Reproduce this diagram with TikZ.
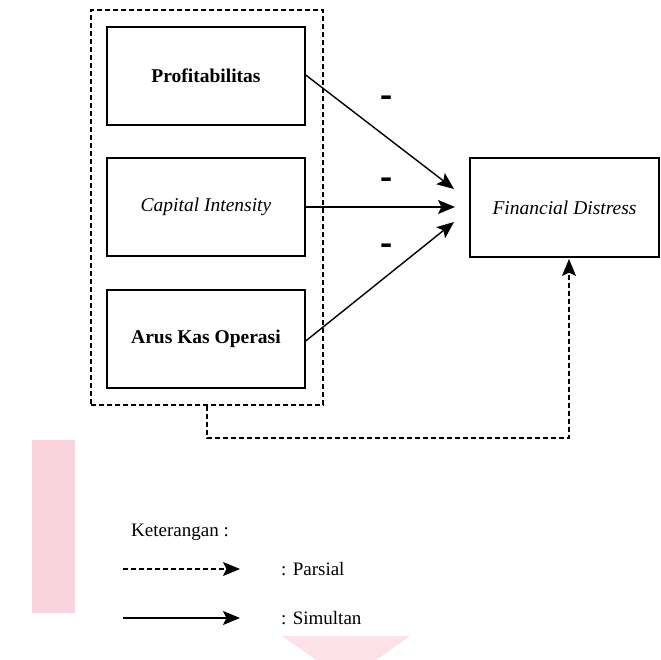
\documentclass[tikz,border=0pt]{standalone}
\usepackage{fontspec}
\setmainfont{Liberation Serif}
\usetikzlibrary{arrows.meta}
\definecolor{wmpink}{RGB}{250,212,220}
\definecolor{wmpinklight}{RGB}{252,225,230}
\tikzset{
  varbox/.style={draw, line width=1.4pt, rectangle, minimum width=198pt, minimum height=98pt, inner sep=0pt, font=\fontsize{19.5}{22}\selectfont},
  groupbox/.style={draw, line width=1.3pt, dash pattern=on 5pt off 3pt, rectangle, minimum width=232pt, minimum height=395pt, inner sep=0pt},
  solidarrow/.style={line width=1.4pt, -{Stealth[length=17pt,width=14pt,inset=3.5pt]}},
  dasharrow/.style={line width=1.3pt, dash pattern=on 5pt off 3pt, -{Stealth[length=17pt,width=14pt,inset=3.5pt]}},
  signlabel/.style={font=\bfseries\fontsize{26}{28}\selectfont, inner sep=0pt},
  legendtext/.style={font=\fontsize{19}{22}\selectfont, anchor=west, inner sep=0pt}
}
\begin{document}
\begin{tikzpicture}[x=1pt,y=-1pt]
\useasboundingbox (0,0) rectangle (661,660);
% watermark
\fill[wmpink] (32,440) rectangle (75,613);
\fill[wmpinklight] (282,636) -- (410,636) -- (376,660) -- (316,660) -- cycle;
% group
\node[groupbox] (grp) at (207,207.5) {};
\node[varbox] (p) at (206,76) {\bfseries Profitabilitas};
\node[varbox] (c) at (206,207) {\itshape Capital Intensity};
\node[varbox] (a) at (206,339) {\bfseries Arus Kas Operasi};
\node[draw, line width=1.4pt, rectangle, minimum width=189pt, minimum height=99pt, inner sep=0pt, font=\fontsize{19.5}{22}\selectfont] (fd) at (564.5,207.5) {\itshape Financial Distress};
% arrow ends
\coordinate (t1) at (454,189);
\coordinate (t2) at (455,207);
\coordinate (t3) at (454,222);
\coordinate (tin) at (569,259);
\coordinate (bend) at (207,438);
\draw[solidarrow] ([yshift=1pt]p.east) -- (t1);
\draw[solidarrow] (c.east) -- (t2);
\draw[solidarrow] ([yshift=-2pt]a.east) -- (t3);
\draw[dasharrow] (grp.south) -- (bend) -| (tin);
% signs
\node[signlabel] (s1) at (387,102) {\scalebox{1.4}[1.6]{-}};
\node[signlabel] (s2) at (387,184) {\scalebox{1.4}[1.6]{-}};
\node[signlabel] (s3) at (387,250) {\scalebox{1.4}[1.6]{-}};
% legend
\node[legendtext] (ket) at (131,532) {Keterangan :};
\coordinate (l1a) at (123,569);
\coordinate (l1b) at (240,569);
\coordinate (l2a) at (123,618);
\coordinate (l2b) at (240,618);
\draw[dasharrow] (l1a) -- (l1b);
\draw[solidarrow] (l2a) -- (l2b);
\node[legendtext] (lp) at (281,569) {: Parsial};
\node[legendtext] (ls) at (281,618) {: Simultan};
\end{tikzpicture}
\end{document}
